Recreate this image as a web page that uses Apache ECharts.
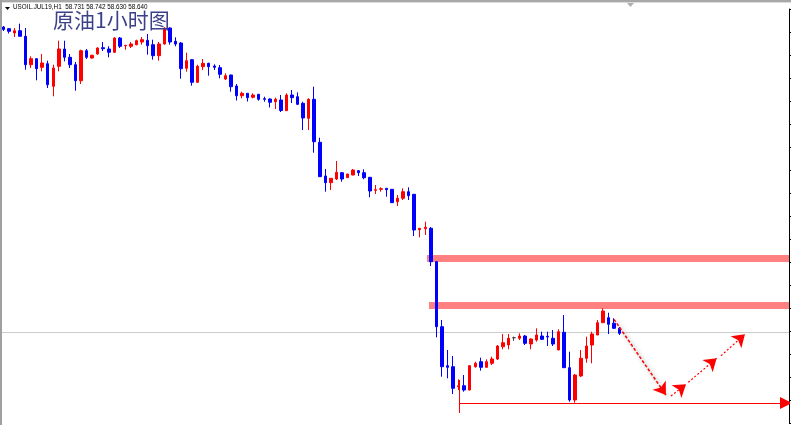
<!DOCTYPE html>
<html><head><meta charset="utf-8">
<script src="https://cdn.jsdelivr.net/npm/echarts@6/dist/echarts.min.js"></script>
<style>html,body{margin:0;padding:0;background:#fff;}#c{width:791px;height:425px;}</style>
</head><body><div id="c"></div>
<script>
// ---- data (USOIL H1 candles) ----
const openPrices = [61.69,61.673,61.63,61.653,61.597,61.313,61.373,61.287,61.323,61.097,
61.297,61.47,61.387,61.313,61.153,61.453,61.38,61.42,61.483,61.47,
61.437,61.58,61.503,61.497,61.513,61.54,61.557,61.513,61.403,61.52,
61.68,61.547,61.53,61.277,61.363,61.137,61.293,61.327,61.30,61.283,
61.17,61.21,61.10,61.003,61.027,60.987,61.017,60.973,60.97,60.943,
60.96,60.853,61.01,60.993,60.927,60.777,60.967,60.537,60.20,60.133,
60.17,60.233,60.183,60.21,60.253,60.233,60.187,60.057,60.067,60.077,
60.067,59.943,59.977,60.043,60.017,59.663,59.673,59.677,59.343,58.693,
58.303,58.293,58.093,58.103,58.06,58.293,58.343,58.287,58.327,58.37,
58.493,58.51,58.583,58.577,58.60,58.52,58.56,58.60,58.597,58.577,
58.46,58.637,58.283,57.96,58.20,58.377,58.51,58.61,58.733,58.783,
58.727,58.677];
const closePrices = [61.665,61.647,61.653,61.597,61.313,61.373,61.273,61.33,61.113,61.28,
61.47,61.387,61.313,61.153,61.453,61.387,61.407,61.48,61.473,61.437,
61.58,61.497,61.507,61.52,61.553,61.563,61.503,61.403,61.52,61.68,
61.54,61.52,61.273,61.353,61.137,61.297,61.327,61.293,61.287,61.217,
61.203,61.093,61.003,61.027,60.983,61.01,60.967,60.967,60.937,60.967,
60.855,61.01,60.983,60.917,60.78,60.967,60.543,60.193,60.133,60.177,
60.237,60.17,60.22,60.26,60.233,60.183,60.05,60.063,60.073,60.063,
59.933,59.977,60.043,60.003,59.66,59.677,59.687,59.343,58.693,58.293,
58.287,58.077,58.103,58.06,58.303,58.327,58.287,58.343,58.37,58.50,
58.533,58.577,58.583,58.60,58.527,58.57,58.61,58.567,58.59,58.52,
58.643,58.283,57.96,58.21,58.377,58.50,58.62,58.733,58.85,58.717,
58.677,58.627];
const lowPrices = [61.65,61.625,61.59,61.595,61.263,61.28,61.157,61.247,61.08,60.997,
61.247,61.347,61.28,61.053,61.12,61.37,61.373,61.413,61.45,61.387,
61.43,61.48,61.463,61.48,61.507,61.513,61.413,61.363,61.353,61.513,
61.513,61.497,61.173,61.243,61.103,61.133,61.26,61.203,61.26,61.177,
61.16,61.043,60.955,60.977,60.945,60.977,60.953,60.943,60.885,60.87,
60.84,60.85,60.93,60.91,60.66,60.66,60.433,60.19,60.043,60.06,
60.16,60.143,60.18,60.207,60.20,60.167,59.987,60.02,60.043,59.993,
59.93,59.90,59.96,59.96,59.60,59.587,59.61,59.30,58.587,58.193,
58.177,58.02,58.06,58.043,58.057,58.283,58.253,58.283,58.31,58.36,
58.467,58.467,58.553,58.56,58.51,58.467,58.543,58.56,58.50,58.50,
58.46,58.28,57.943,57.933,58.19,58.333,58.327,58.61,58.73,58.62,
58.67,58.61];
const highPrices = [61.70,61.68,61.68,61.723,61.68,61.397,61.38,61.42,61.353,61.313,
61.553,61.553,61.42,61.34,61.463,61.47,61.413,61.487,61.54,61.497,
61.587,61.59,61.51,61.54,61.563,61.59,61.62,61.563,61.54,61.687,
61.687,61.587,61.54,61.433,61.37,61.313,61.37,61.333,61.317,61.31,
61.227,61.213,61.12,61.043,61.03,61.027,61.02,60.993,60.977,60.983,
61.01,61.027,61.06,61.037,60.943,60.977,61.093,60.583,60.27,60.18,
60.35,60.24,60.223,60.27,60.26,60.267,60.19,60.11,60.087,60.08,
60.07,60.01,60.077,60.087,60.02,59.68,59.743,59.69,59.35,58.76,
58.46,58.40,58.167,58.21,58.31,58.343,58.383,58.367,58.393,58.51,
58.62,58.62,58.593,58.627,58.61,58.577,58.677,58.643,58.643,58.66,
58.667,58.81,58.443,58.22,58.46,58.593,58.643,58.76,58.877,58.833,
58.777,58.69];
const futureSlots = 30;             // empty hourly slots right of the last bar
const categories = [];
for (let i = 0; i < openPrices.length + futureSlots; i++) categories.push('H' + (i + 1));

const yTicks = {min: 57.73, max: 61.87, interval: 0.23};
const bidPrice = 58.64;
const resistanceBands = [[76.3, 59.373], [76.67, 58.905]];   // [start index, price]
const baseLine = {x: 82.07, top: 58.16, bottom: 57.83, price: 57.93, end: 140.96};
const forecastArrows = [
  [[109.98, 58.767], [119.34, 58.01]],
  [[120.24, 58.0], [122.95, 58.117]],
  [[123.36, 58.137], [128.47, 58.377]],
  [[129.25, 58.403], [133.57, 58.617]]
];
const headerText = 'USOIL.JUL19,H1  58.731 58.742 58.630 58.640';
const titleText = '原油1小时图';

// ---- build ----
const candleData = openPrices.map((o, i) => {
  const v = [o, closePrices[i], lowPrices[i], highPrices[i]];
  if (o === closePrices[i]) return {value: v, itemStyle: {color: '#404040', color0: '#404040', borderColor: '#404040', borderColor0: '#404040'}};
  return v;
});
const lastIdx = categories.length - 0.5;

const chart = echarts.init(document.getElementById('c'), null, {renderer: 'canvas'});
chart.setOption({
  animation: false,
  backgroundColor: '#ffffff',
  grid: {left: 0.5, right: 2, top: 9, bottom: 2, containLabel: false},
  xAxis: [
    {type: 'category', data: categories, boundaryGap: true, show: false},
    {type: 'value', min: -0.5, max: lastIdx, show: false}
  ],
  yAxis: [{
    type: 'value', position: 'right', scale: true,
    min: yTicks.min, max: yTicks.max, interval: yTicks.interval,
    axisLine: {show: true, onZero: false, lineStyle: {color: '#000', width: 1}},
    axisTick: {show: true, inside: false, length: 3, lineStyle: {color: '#000'}},
    axisLabel: {show: false}, splitLine: {show: false}
  }],
  series: [
    {type: 'lines', coordinateSystem: 'cartesian2d', xAxisIndex: 1, yAxisIndex: 0, z: 1, silent: true,
     symbol: 'none', lineStyle: {color: '#cccccc', width: 1, opacity: 1},
     data: [{coords: [[-0.5, bidPrice], [lastIdx, bidPrice]]}]},
    {type: 'lines', coordinateSystem: 'cartesian2d', xAxisIndex: 1, yAxisIndex: 0, z: 1, silent: true,
     symbol: 'none', lineStyle: {color: '#ff8080', width: 7, opacity: 1},
     data: resistanceBands.map(b => ({coords: [[b[0], b[1]], [lastIdx, b[1]]]}))},
    {type: 'candlestick', xAxisIndex: 0, yAxisIndex: 0, z: 3, barWidth: 3,
     itemStyle: {color: '#ff0000', color0: '#0000ff', borderColor: '#ff0000', borderColor0: '#0000ff', borderWidth: 1},
     data: candleData},
    {type: 'lines', coordinateSystem: 'cartesian2d', xAxisIndex: 1, yAxisIndex: 0, z: 4, silent: true,
     symbol: 'none', lineStyle: {color: '#ff0000', width: 1, opacity: 1},
     data: [{coords: [[baseLine.x, baseLine.top], [baseLine.x, baseLine.bottom]]}]},
    {type: 'lines', coordinateSystem: 'cartesian2d', xAxisIndex: 1, yAxisIndex: 0, z: 4, silent: true,
     symbol: ['none', 'triangle'], symbolSize: [10, 12], lineStyle: {color: '#ff0000', width: 1, opacity: 1},
     data: [{coords: [[baseLine.x, baseLine.price], [baseLine.end, baseLine.price]]}]},
    {type: 'lines', coordinateSystem: 'cartesian2d', xAxisIndex: 1, yAxisIndex: 0, z: 5, silent: true,
     symbol: ['none', 'arrow'], symbolSize: [9, 12],
     lineStyle: {color: '#ff0000', width: 1.5, type: [3, 2], opacity: 1, shadowBlur: 4, shadowColor: 'rgba(0,0,0,0.45)', shadowOffsetX: 2, shadowOffsetY: 2},
     data: [{coords: forecastArrows[0]}]},
    {type: 'lines', coordinateSystem: 'cartesian2d', xAxisIndex: 1, yAxisIndex: 0, z: 5, silent: true,
     symbol: ['none', 'arrow'], symbolSize: [9, 12],
     lineStyle: {color: '#ff0000', width: 1.2, type: [2, 2], opacity: 1},
     data: forecastArrows.slice(1).map(a => ({coords: a}))}
  ],
  graphic: [
    {type: 'rect', left: 0, top: 0, shape: {width: 791, height: 2}, style: {fill: '#a8a8a8'}, z: 10},
    {type: 'rect', left: 0, top: 2, shape: {width: 791, height: 1}, style: {fill: '#dcdcdc'}, z: 10},
    {type: 'rect', left: 0, top: 0, shape: {width: 2, height: 425}, style: {fill: '#a0a0a0'}, z: 10},
    {type: 'polygon', shape: {points: [[627, 3], [634, 3], [630.5, 7]]}, style: {fill: '#b0b0b0'}, z: 10},
    {type: 'polygon', shape: {points: [[5, 7], [10, 7], [7.5, 10]]}, style: {fill: '#000'}, z: 10},
    {type: 'text', left: 13, top: 4.5, z: 10, style: {text: headerText, fill: '#000', font: '6.3px "Liberation Sans", Arial, sans-serif'}},
    {type: 'text', left: 53, top: 10, z: 10, style: {text: titleText, fill: '#3c4088', font: '21px "Noto Sans CJK SC", sans-serif'}}
  ]
});
</script></body></html>
